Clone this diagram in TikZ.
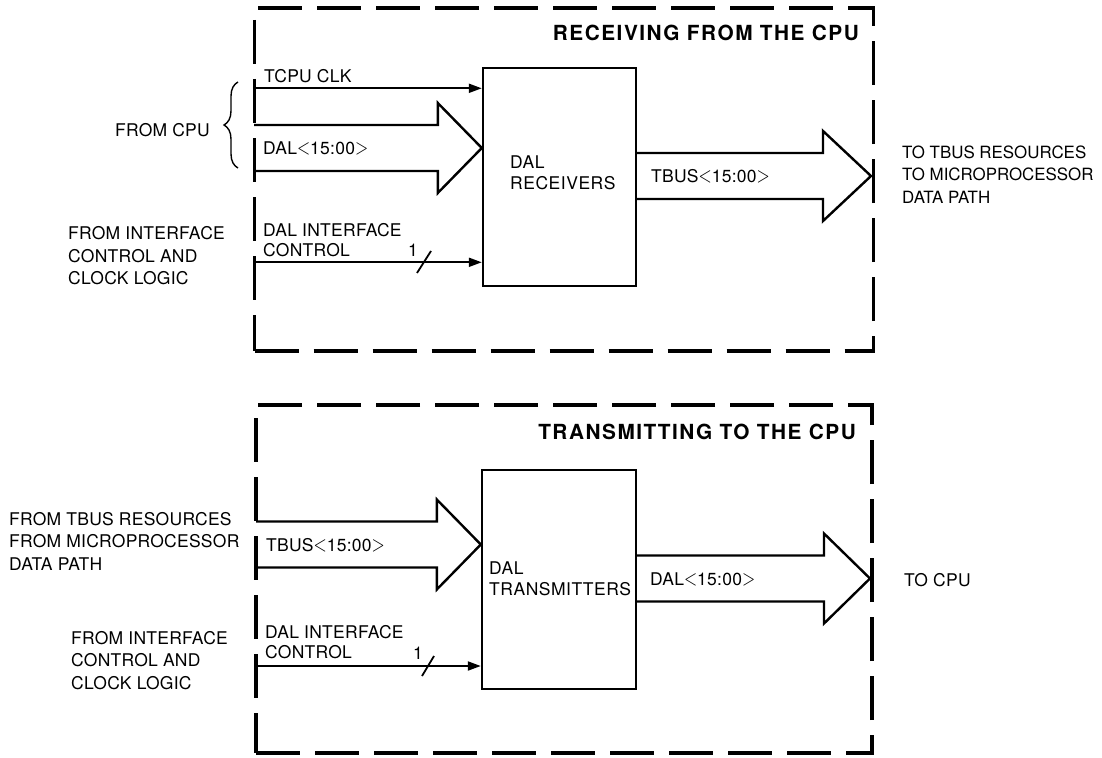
\documentclass[tikz,border=0pt]{standalone}
\usepackage{fontspec}
\setmainfont{TeX Gyre Heros}
\usetikzlibrary{arrows.meta,calc,decorations.pathreplacing}

% wide bus arrow: #1 tail point, #2 tip point (same height), #3 head length
\newcommand{\busarrow}[3]{%
  \draw[bus] ($(#1)+(0,-23)$) -- ($(#2)+(-#3,-23)$) -- ($(#2)+(-#3,-45)$)
    -- (#2) -- ($(#2)+(-#3,45)$) -- ($(#2)+(-#3,23)$) -- ($(#1)+(0,23)$);}
\newcommand{\ltsign}{\scalebox{1}[1.3]{$<$}}
\newcommand{\gtsign}{\scalebox{1}[1.3]{$>$}}

\begin{document}
\begin{tikzpicture}[x=1pt, y=-1pt,
    zone/.style={draw, line width=3.2pt, dash pattern=on 44pt off 15pt, inner sep=0pt},
    unit/.style={draw, line width=2.4pt, inner sep=0pt},
    sig/.style={line width=2pt, -{Triangle[length=13pt,width=9pt]}},
    bus/.style={line width=2.4pt},
    tick/.style={line width=1.8pt},
    lbl/.style={inner sep=0pt, align=left, font=\fontsize{17.5}{22.5}\selectfont\addfontfeatures{LetterSpace=1.5}},
    pair/.style={lbl, font=\fontsize{17.5}{20}\selectfont\addfontfeatures{LetterSpace=1.5}},
    ttl/.style={inner sep=0pt, font=\fontsize{20.8}{25}\selectfont\bfseries\addfontfeatures{LetterSpace=7.3}},
    boxtxt/.style={lbl, font=\fontsize{17.5}{21.5}\selectfont\addfontfeatures{LetterSpace=3}},
  ]
  \useasboundingbox (0,0) rectangle (1102,757);

  % receiving from the cpu
  \node[zone, minimum width=619pt, minimum height=343pt] (rxzone) at (564,179.5) {};
  \node[ttl, anchor=east] (rxtitle) at (859,32.5) {RECEIVING FROM THE CPU};
  \node[unit, minimum width=153pt, minimum height=218pt] (rcv) at (559.5,177) {};
  \node[boxtxt, anchor=west] (rcvtxt) at (510,173) {DAL\\RECEIVERS};

  \coordinate (clk) at (254,88.3);
  \coordinate (dalin) at (254,148);
  \coordinate (ctlrx) at (254,262.3);
  \coordinate (tbusout) at (871,176);

  \draw[sig] (clk) -- (clk -| rcv.west);
  \busarrow{dalin}{dalin -| rcv.west}{44}
  \draw[sig] (ctlrx) -- (ctlrx -| rcv.west);
  \draw[tick] (424,262) +(-7,11) -- +(7,-11);
  \busarrow{rcv.east |- tbusout}{tbusout}{48}

  \node[lbl, anchor=west] (clklbl) at (264,76) {TCPU CLK};
  \node[lbl, anchor=west] (dallbl) at (263,148) {DAL\ltsign15:00\gtsign};
  \node[pair, anchor=west] (ctlrxlbl) at (263,239.7) {DAL INTERFACE\\CONTROL};
  \node[lbl] (onerx) at (413,250) {1};
  \node[lbl, anchor=west] (tbuslbl) at (651,176) {TBUS\ltsign15:00\gtsign};

  \draw[line width=1.4pt, decorate, decoration={brace, amplitude=14pt}] (238,168) -- (238,82);
  \node[lbl, anchor=east] (fromcpu) at (210,130) {FROM CPU};
  \node[lbl, anchor=west] (ifrx) at (68,256) {FROM INTERFACE\\CONTROL AND\\CLOCK LOGIC};
  \node[lbl, anchor=west, font=\fontsize{16.9}{22.5}\selectfont] (torx) at (902,174.5) {TO TBUS RESOURCES\\TO MICROPROCESSOR\\DATA PATH};

  % transmitting to the cpu
  \node[zone, minimum width=616pt, minimum height=348pt] (txzone) at (564,579) {};
  \node[ttl, anchor=east] (txtitle) at (856,431.5) {TRANSMITTING TO THE CPU};
  \node[unit, minimum width=154pt, minimum height=219pt] (xmt) at (559,579.5) {};
  \node[boxtxt, anchor=west] (xmttxt) at (489,579) {DAL\\TRANSMITTERS};

  \coordinate (tbusin) at (256,544.5);
  \coordinate (ctltx) at (256,666);
  \coordinate (dalout) at (870,578.5);

  \busarrow{tbusin}{tbusin -| xmt.west}{44}
  \draw[sig] (ctltx) -- (ctltx -| xmt.west);
  \draw[tick] (428,666) +(-6,10) -- +(6,-10);
  \busarrow{xmt.east |- dalout}{dalout}{46}

  \node[lbl, anchor=west] (tbusinlbl) at (266,545) {TBUS\ltsign15:00\gtsign};
  \node[pair, anchor=west] (ctltxlbl) at (265,642.5) {DAL INTERFACE\\CONTROL};
  \node[lbl] (onetx) at (418,653) {1};
  \node[lbl, anchor=west] (daloutlbl) at (650,579) {DAL\ltsign15:00\gtsign};

  \node[lbl, anchor=west] (fromtbus) at (9,541) {FROM TBUS RESOURCES\\FROM MICROPROCESSOR\\DATA PATH};
  \node[lbl, anchor=west] (iftx) at (71,660.5) {FROM INTERFACE\\CONTROL AND\\CLOCK LOGIC};
  \node[lbl, anchor=west] (tocpu) at (904,580) {TO CPU};
\end{tikzpicture}
\end{document}
